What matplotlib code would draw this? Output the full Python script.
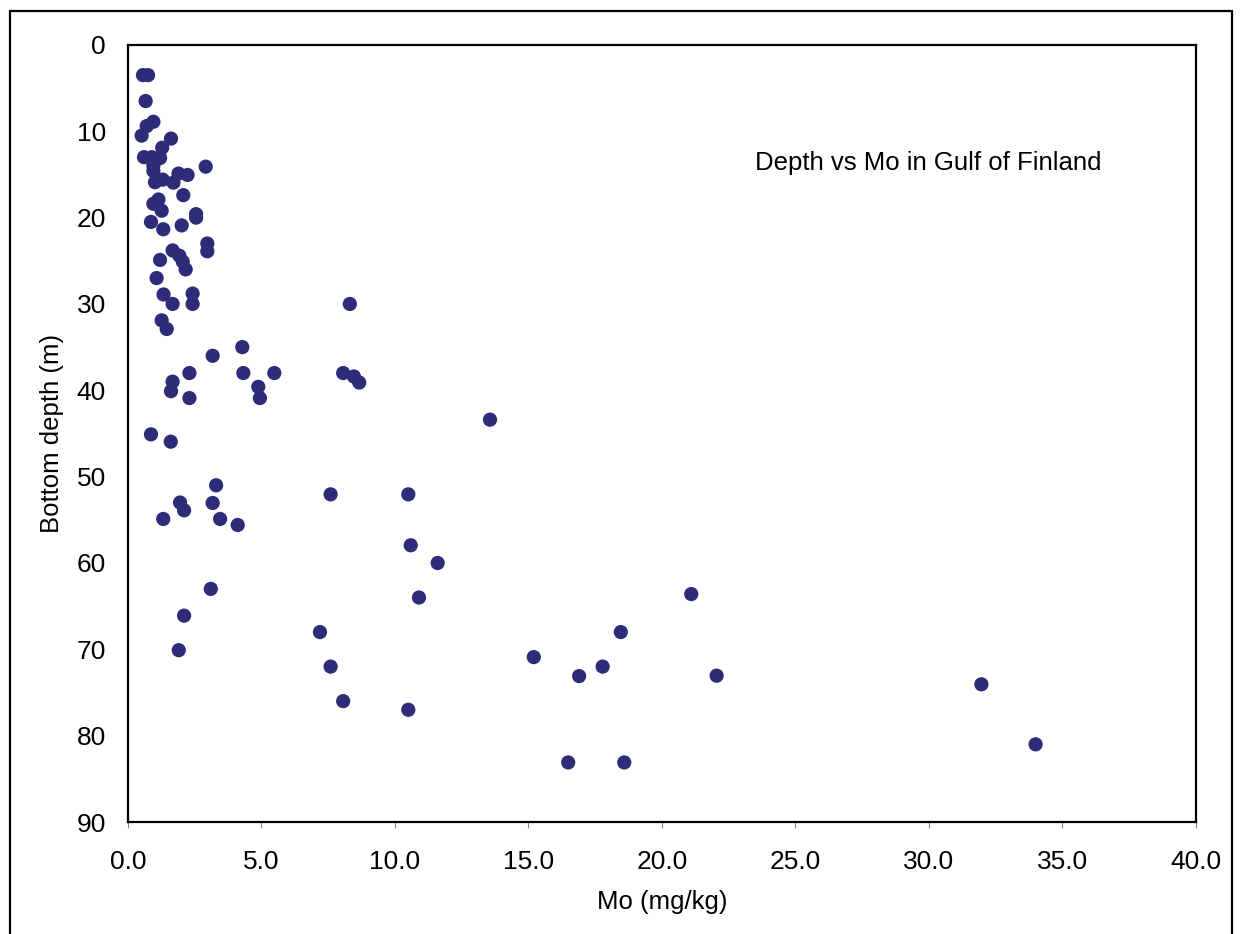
import matplotlib.pyplot as plt
from matplotlib.patches import Rectangle

plt.rcParams['font.family'] = ['Liberation Sans', 'DejaVu Sans']

# Mo (mg/kg) and bottom depth (m)
mo = [0.56, 0.75, 0.66, 0.95, 0.70, 0.51, 1.61, 1.28, 0.60, 0.89,
      1.20, 0.95, 0.95, 2.91, 1.01, 1.30, 1.70, 1.89, 2.23, 2.07,
      1.14, 0.95, 1.26, 2.55, 2.55, 0.86, 1.32, 2.01, 2.97, 2.97,
      1.67, 1.92, 2.05, 2.16, 1.20, 1.07, 1.33, 1.67, 2.42, 2.42,
      1.26, 1.45, 3.17, 4.28, 2.30, 1.67, 1.61, 2.30, 4.32, 5.48,
      4.88, 4.94, 8.31, 8.06, 8.46, 8.66, 13.56, 0.86, 1.60, 3.30,
      1.95, 2.10, 3.17, 1.32, 3.45, 4.11, 3.10, 2.10, 1.90, 7.59,
      10.50, 10.59, 11.60, 10.90, 7.19, 7.59, 8.06, 10.50, 15.20, 16.90,
      16.49, 18.46, 17.78, 18.59, 22.05, 21.10, 31.97, 34.00]
depth = [3.5, 3.5, 6.5, 8.9, 9.4, 10.5, 10.85, 11.9, 13.0, 13.0,
         13.1, 14.0, 14.6, 14.1, 15.9, 15.6, 15.95, 14.9, 15.06, 17.4,
         17.9, 18.4, 19.2, 19.6, 20.0, 20.5, 21.35, 20.9, 23.0, 23.9,
         23.8, 24.4, 25.1, 26.0, 24.9, 27.0, 28.9, 30.0, 28.8, 30.0,
         31.9, 32.9, 36.0, 35.0, 38.0, 39.0, 40.1, 40.9, 38.0, 38.0,
         39.6, 40.9, 30.0, 38.0, 38.4, 39.1, 43.4, 45.1, 45.95, 51.0,
         53.0, 53.9, 53.05, 54.9, 54.9, 55.6, 63.0, 66.1, 70.1, 52.05,
         52.05, 57.95, 60.0, 64.0, 68.0, 72.0, 76.0, 77.0, 70.9, 73.1,
         83.1, 68.0, 72.0, 83.1, 73.05, 63.6, 74.05, 81.0]

xticks = [0, 5, 10, 15, 20, 25, 30, 35, 40]
yticks = [0, 10, 20, 30, 40, 50, 60, 70, 80, 90]

fig = plt.figure(figsize=(12.43, 9.34), dpi=100)
ax = fig.add_axes([0.103, 0.1199, 0.859, 0.832])

ax.scatter(mo, depth, s=105, color='#2e2b78', edgecolors='none', zorder=3)

ax.set_xlim(0, 40)
ax.set_ylim(90, 0)
ax.set_xticks(xticks)
ax.set_xticklabels(['%.1f' % t for t in xticks])
ax.set_yticks(yticks)
ax.tick_params(axis='x', length=4, width=0.8, color='#888888', pad=16, labelsize=19)
ax.tick_params(axis='y', length=0, pad=16, labelsize=19)
for sp in ax.spines.values():
    sp.set_linewidth(1.6)

ax.set_xlabel('Mo (mg/kg)', fontsize=18.5, labelpad=12)
ax.set_ylabel('Bottom depth (m)', fontsize=18.5, labelpad=9)
ax.text(0.587, 0.848, 'Depth vs Mo in Gulf of Finland', transform=ax.transAxes,
        fontsize=18.5, va='center', ha='left')

# outer frame around the chart
fig.patches.append(Rectangle((10 / 1243, -0.05), 1222 / 1243, 1.05 - 11 / 934,
                             transform=fig.transFigure, fill=False,
                             linewidth=1.6, edgecolor='black'))

fig.savefig('out.png', dpi=100)
